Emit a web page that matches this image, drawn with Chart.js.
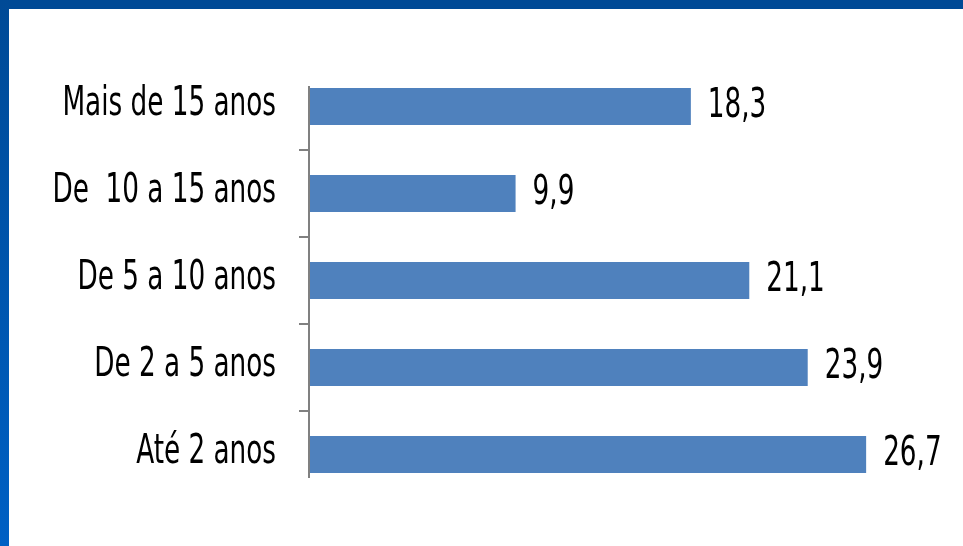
<!DOCTYPE html>
<html>
<head>
<meta charset="utf-8">
<script src="https://cdn.jsdelivr.net/npm/chart.js@4/dist/chart.umd.min.js"></script>
<style>
    html, body { margin: 0; padding: 0; background: #fff; }
    #wrap { position: relative; width: 963px; height: 546px; overflow: hidden; }
    #top-bar { position: absolute; left: 0; top: 0; width: 963px; height: 9px; background: #004a96; }
    #left-bar { position: absolute; left: 0; top: 0; width: 9px; height: 546px;
        background: linear-gradient(to bottom, #004a96, #0060c4); }
</style>
</head>
<body>
<div id="wrap">
    <canvas id="chart" width="963" height="546"></canvas>
    <div id="top-bar"></div>
    <div id="left-bar"></div>
</div>
<script>
// data (top to bottom)
const categories = ['Mais de 15 anos', 'De  10 a 15 anos', 'De 5 a 10 anos', 'De 2 a 5 anos', 'Até 2 anos'];
const percentValues = [18.3, 9.9, 21.1, 23.9, 26.7];

const fontFamily = '"Liberation Sans Narrow", "DejaVu Sans Condensed", sans-serif';
const fontSize = 40;
const squeeze = 0.73;   // the original text is tall and narrow

// draws category names and the "18,3" style values, squeezed horizontally
const textLayer = {
    id: 'textLayer',
    afterDatasetsDraw(chart) {
        const ctx = chart.ctx;
        const yScale = chart.scales.y;
        const area = chart.chartArea;
        const meta = chart.getDatasetMeta(0);

        // axis line (shorter than the plot area, like the original)
        ctx.save();
        ctx.strokeStyle = '#808080';
        ctx.lineWidth = 2;
        ctx.beginPath();
        ctx.moveTo(area.left, area.top + 23);
        ctx.lineTo(area.left, area.bottom - 20);
        ctx.stroke();
        ctx.restore();

        ctx.save();
        ctx.font = fontSize + 'px ' + fontFamily;
        ctx.fillStyle = '#000';
        ctx.textBaseline = 'middle';
        ctx.scale(squeeze, 1);

        ctx.textAlign = 'right';
        categories.forEach((cat, i) => {
            ctx.fillText(cat, (area.left - 33) / squeeze, yScale.getPixelForValue(i) - 2);
        });

        ctx.textAlign = 'left';
        meta.data.forEach((bar, i) => {
            const txt = percentValues[i].toFixed(1).replace('.', ',');
            ctx.fillText(txt, (bar.x + 17) / squeeze, bar.y);
        });
        ctx.restore();
    }
};

var ctx = document.getElementById('chart').getContext('2d');
var chart = new Chart(ctx, {
    type: 'bar',
    data: {
        labels: categories,
        datasets: [{
            data: percentValues,
            backgroundColor: '#4f81bd',
            categoryPercentage: 1,
            barPercentage: 0.425
        }]
    },
    options: {
        indexAxis: 'y',
        responsive: false,
        animation: false,
        layout: { padding: { top: 63, bottom: 48, right: 28, left: 0 } },
        plugins: {
            legend: { display: false },
            tooltip: { enabled: false }
        },
        scales: {
            x: { display: false, min: 0, max: 30 },
            y: {
                grid: {
                    offset: true,
                    drawOnChartArea: false,
                    tickLength: 10,
                    lineWidth: 2,
                    // only the inner separators get a tick mark
                    color: (c) => (c.type !== 'tick' || c.index === 0) ? 'rgba(0,0,0,0)' : '#808080'
                },
                border: { display: false },
                ticks: { display: false },
                afterFit: (scale) => { scale.width = 309; }
            }
        }
    },
    plugins: [textLayer]
});
</script>
</body>
</html>
